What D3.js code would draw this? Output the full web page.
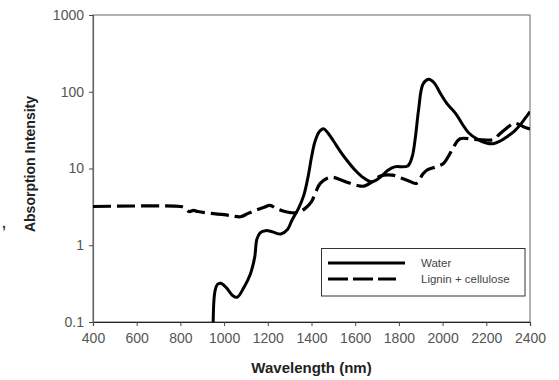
<!DOCTYPE html>
<html>
<head>
<meta charset="utf-8">
<script src="https://cdn.jsdelivr.net/npm/d3@7/dist/d3.min.js"></script>
<style>
  html, body { margin: 0; padding: 0; background: #fff; }
  svg { display: block; font-family: "Liberation Sans", Arial, sans-serif; }
</style>
</head>
<body>
<svg id="chart" width="559" height="380"></svg>
<script>
// Absorption spectra: wavelength (nm) vs absorption intensity (log scale)
const xTicks = [400, 600, 800, 1000, 1200, 1400, 1600, 1800, 2000, 2200, 2400];
const yTicks = [0.1, 1, 10, 100, 1000];
const yTickLabels = ["0.1", "1", "10", "100", "1000"];

const seriesNames = ["Water", "Lignin + cellulose"];

const waterWavelength = [950, 958, 970, 985, 1010, 1040, 1060, 1090, 1120, 1140, 1150, 1165, 1190, 1220, 1260, 1290, 1310, 1340, 1365, 1385, 1400, 1415, 1435, 1455, 1475, 1500, 1530, 1560, 1600, 1640, 1675, 1710, 1750, 1780, 1840, 1860, 1875, 1890, 1910, 1935, 1960, 1990, 2020, 2060, 2090, 2120, 2160, 2200, 2230, 2260, 2295, 2330, 2355, 2380, 2400];
const waterValue = [0.1, 0.25, 0.31, 0.32, 0.28, 0.22, 0.21, 0.28, 0.42, 0.7, 1.2, 1.45, 1.55, 1.5, 1.4, 1.6, 2.1, 3, 4.5, 8, 14, 22, 30, 33, 29, 23, 17, 13, 9.5, 7.5, 6.7, 7.5, 9.5, 10.5, 10.8, 14, 25, 58, 125, 145, 132, 95, 70, 52, 38, 29, 24, 21.5, 21, 22.5, 26, 31, 37, 46, 55];

const ligninWavelength = [400, 800, 820, 840, 860, 880, 940, 1000, 1040, 1075, 1110, 1150, 1180, 1210, 1240, 1270, 1310, 1340, 1370, 1400, 1420, 1440, 1470, 1495, 1530, 1570, 1610, 1640, 1680, 1715, 1770, 1810, 1840, 1880, 1910, 1930, 1970, 2005, 2030, 2050, 2080, 2140, 2200, 2235, 2260, 2290, 2325, 2345, 2370, 2400];
const ligninValue = [3.2, 3.2, 3.1, 2.75, 2.85, 2.75, 2.6, 2.5, 2.4, 2.35, 2.6, 2.9, 3.1, 3.3, 3.0, 2.8, 2.65, 2.7, 3.0, 3.7, 5, 6.4, 7.4, 7.7, 7.2, 6.5, 6.0, 5.9, 6.8, 8, 8.2, 7.5, 7.0, 6.4, 8.5, 9.6, 10.5, 11.7, 15, 19, 24.4, 24, 23.5, 24, 28, 33, 38.8, 38, 35, 32.7];

const svg = d3.select("#chart");
const plotLeft = 93, plotRight = 530, plotTop = 15, plotBottom = 322;

const x = d3.scaleLinear().domain([400, 2400]).range([plotLeft, plotRight]);
const y = d3.scaleLog().domain([0.1, 1000]).range([plotBottom, plotTop]);

// plot frame
svg.append("rect")
  .attr("x", plotLeft).attr("y", plotTop)
  .attr("width", plotRight - plotLeft).attr("height", plotBottom - plotTop)
  .attr("fill", "none").attr("stroke", "#666").attr("stroke-width", 1);

svg.append("clipPath").attr("id", "plotClip")
  .append("rect").attr("x", plotLeft).attr("y", plotTop)
  .attr("width", plotRight - plotLeft).attr("height", plotBottom - plotTop);

// axes
const xAxis = d3.axisBottom(x).tickValues(xTicks).tickSize(4).tickFormat(d3.format("d"));
const gx = svg.append("g").attr("transform", `translate(0,${plotBottom})`).call(xAxis);
gx.select(".domain").attr("stroke", "#222").attr("stroke-width", 1.2);
gx.selectAll(".tick line").attr("stroke", "#444");
gx.selectAll(".tick text")
  .attr("font-size", 14).attr("fill", "#555").attr("dy", "1.0em")
  .style("font-family", "'Liberation Sans', Arial, sans-serif");

const yAxis = d3.axisLeft(y).tickValues(yTicks).tickSize(4)
  .tickFormat((d, i) => yTickLabels[i]);
const gy = svg.append("g").attr("transform", `translate(${plotLeft},0)`).call(yAxis);
gy.select(".domain").attr("stroke", "#666").attr("stroke-width", 1.2);
gy.selectAll(".tick line").attr("stroke", "#444");
gy.selectAll(".tick text")
  .attr("font-size", 14).attr("fill", "#555").attr("x", -9)
  .style("font-family", "'Liberation Sans', Arial, sans-serif");

// series
const line = d3.line()
  .x(d => x(d[0]))
  .y(d => y(d[1]))
  .curve(d3.curveCatmullRom.alpha(0.5));

const waterData = waterWavelength.map((w, i) => [w, waterValue[i]]);
const ligninData = ligninWavelength.map((w, i) => [w, ligninValue[i]]);

const plot = svg.append("g").attr("clip-path", "url(#plotClip)");

plot.append("path").datum(ligninData)
  .attr("d", line).attr("fill", "none")
  .attr("stroke", "#000").attr("stroke-width", 3.2)
  .attr("stroke-dasharray", "18,6").attr("stroke-linejoin", "round");

plot.append("path").datum(waterData)
  .attr("d", line).attr("fill", "none")
  .attr("stroke", "#000").attr("stroke-width", 3)
  .attr("stroke-linejoin", "round");

// legend
const lg = svg.append("g");
lg.append("rect")
  .attr("x", 321.5).attr("y", 248.5).attr("width", 203.5).attr("height", 47.5)
  .attr("fill", "#fff").attr("stroke", "#333").attr("stroke-width", 1);
lg.append("line").attr("x1", 328).attr("x2", 405).attr("y1", 263).attr("y2", 263)
  .attr("stroke", "#000").attr("stroke-width", 3.2);
lg.append("line").attr("x1", 328).attr("x2", 396).attr("y1", 279).attr("y2", 279)
  .attr("stroke", "#000").attr("stroke-width", 3.2).attr("stroke-dasharray", "20,5");
lg.selectAll("text.lab").data(seriesNames).enter().append("text")
  .attr("class", "lab")
  .attr("x", 421).attr("y", (d, i) => 263 + i * 16)
  .attr("dominant-baseline", "central")
  .attr("font-size", 11.5).attr("fill", "#444")
  .text(d => d);

// axis titles
svg.append("text")
  .attr("x", (plotLeft + plotRight) / 2).attr("y", 373)
  .attr("text-anchor", "middle")
  .attr("font-size", 15).attr("font-weight", "bold").attr("fill", "#222")
  .text("Wavelength (nm)");

svg.append("text")
  .attr("transform", "translate(30,164) rotate(-90)")
  .attr("text-anchor", "middle").attr("dominant-baseline", "central")
  .attr("font-size", 14).attr("font-weight", "bold").attr("fill", "#222")
  .text("Absorption Intensity");

svg.append("text")
  .attr("x", 2).attr("y", 228)
  .attr("font-size", 14).attr("font-weight", "bold").attr("fill", "#333")
  .text(",");
</script>
</body>
</html>
